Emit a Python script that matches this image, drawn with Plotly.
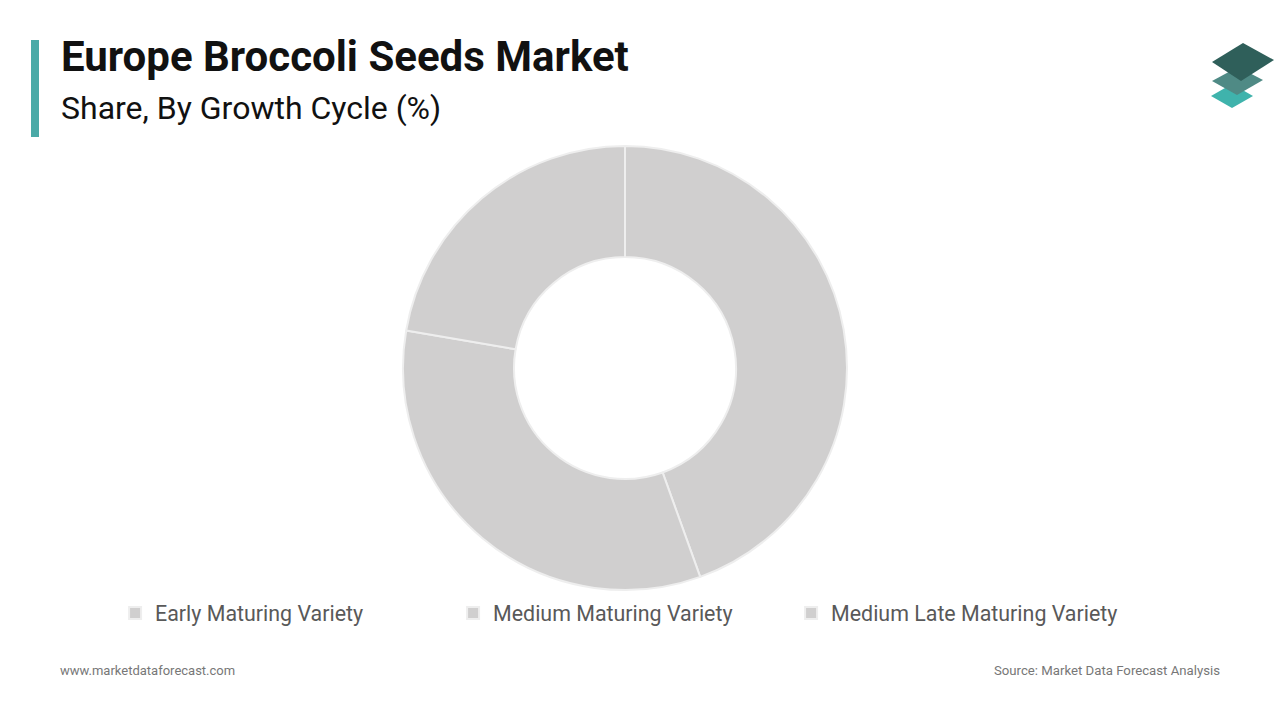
import plotly.graph_objects as go

W, H = 1280, 720

categories = ["Early Maturing Variety", "Medium Maturing Variety", "Medium Late Maturing Variety"]
shares = [44.5, 33.2, 22.3]
slice_colors = ["#d0cfcf", "#d0cfcf", "#d0cfcf"]

title_text = "Europe Broccoli Seeds Market"
subtitle_text = "Share, By Growth Cycle (%)"
site_text = "www.marketdataforecast.com"
source_text = "Source: Market Data Forecast Analysis"


def px(x):
    return x / W


def py(y):
    return 1 - y / H


def path(points):
    s = "M " + " L ".join(f"{px(x):.5f},{py(y):.5f}" for x, y in points) + " Z"
    return s


fig = go.Figure()
fig.add_trace(go.Pie(
    labels=categories,
    values=shares,
    hole=0.5,
    sort=False,
    direction="clockwise",
    rotation=0,
    marker=dict(colors=slice_colors, line=dict(color="#eeeeee", width=2)),
    textinfo="none",
    hoverinfo="label+percent",
    domain=dict(x=[px(403), px(847)], y=[py(590), py(146)]),
))

fig.update_layout(
    width=W, height=H,
    margin=dict(l=0, r=0, t=0, b=0),
    paper_bgcolor="white",
    plot_bgcolor="white",
    font=dict(family="Roboto", color="#555555"),
    showlegend=True,
    legend=dict(
        orientation="h",
        x=0.486, xanchor="center",
        y=py(613), yanchor="middle",
        font=dict(size=21.4, color="#595959", family="Roboto"),
        entrywidth=293, entrywidthmode="pixels",
        bgcolor="rgba(0,0,0,0)",
    ),
    shapes=[
        dict(type="rect", xref="paper", yref="paper",
             x0=px(31), x1=px(39), y0=py(137), y1=py(40),
             fillcolor="#4aaaa7", line=dict(width=0)),
        dict(type="path", xref="paper", yref="paper",
             path=path([(1211, 96), (1232, 84), (1253, 96), (1232, 108)]),
             fillcolor="#3fb3ac", line=dict(width=0)),
        dict(type="path", xref="paper", yref="paper",
             path=path([(1212, 81), (1238, 67), (1263, 80), (1237, 95)]),
             fillcolor="#4f8a85", line=dict(width=0)),
        dict(type="path", xref="paper", yref="paper",
             path=path([(1212, 62), (1243, 43), (1274, 60), (1241, 81)]),
             fillcolor="#2f5f5a", line=dict(width=0)),
    ],
    annotations=[
        dict(text=f"<b>{title_text}</b>", xref="paper", yref="paper",
             x=px(59), y=py(57), xanchor="left", yanchor="middle",
             showarrow=False, font=dict(size=42, color="#111111", family="Roboto")),
        dict(text=subtitle_text, xref="paper", yref="paper",
             x=px(59), y=py(108), xanchor="left", yanchor="middle",
             showarrow=False, font=dict(size=32, color="#111111", family="Roboto")),
        dict(text=site_text, xref="paper", yref="paper",
             x=px(58), y=py(670), xanchor="left", yanchor="middle",
             showarrow=False, font=dict(size=13, color="#777777", family="Roboto")),
        dict(text=source_text, xref="paper", yref="paper",
             x=px(1222), y=py(670), xanchor="right", yanchor="middle",
             showarrow=False, font=dict(size=13.2, color="#777777", family="Roboto")),
    ],
)

fig.write_html("out.html")
